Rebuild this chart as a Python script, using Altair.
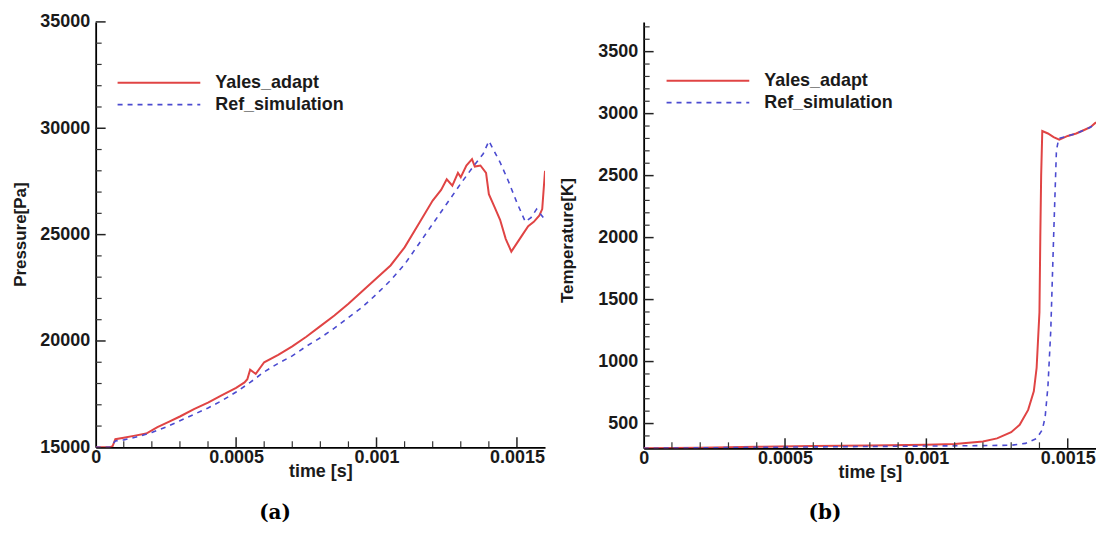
import altair as alt
import pandas as pd

series_names = ["Yales_adapt", "Ref_simulation"]
series_colors = ["#e04444", "#4b4bd0"]

t_p_yales = [0, 0.00005, 0.00006, 0.00007, 0.0001, 0.00014, 0.00018, 0.00022, 0.00026, 0.0003,
             0.00035, 0.0004, 0.00045, 0.0005, 0.00053, 0.00054, 0.00055, 0.00057, 0.0006, 0.00065,
             0.0007, 0.00075, 0.0008, 0.00085, 0.0009, 0.00095, 0.001, 0.00105, 0.0011, 0.00115,
             0.0012, 0.00123, 0.00125, 0.00127, 0.00129, 0.0013, 0.00132, 0.00134, 0.00135, 0.00137,
             0.00139, 0.0014, 0.00142, 0.00144, 0.00146, 0.00148, 0.0015, 0.00152, 0.00154, 0.00156,
             0.00158, 0.00159, 0.0016]
p_yales = [15000, 15000, 15050, 15380, 15450, 15550, 15650, 15950, 16200, 16450,
           16800, 17100, 17450, 17800, 18050, 18200, 18650, 18450, 19000, 19350,
           19750, 20200, 20700, 21200, 21750, 22350, 22950, 23550, 24400, 25500,
           26600, 27100, 27600, 27300, 27900, 27700, 28250, 28550, 28200, 28250,
           27900, 26900, 26300, 25700, 24800, 24200, 24600, 25000, 25400, 25600,
           25900, 26200, 28000]

t_p_ref = [0, 0.00005, 0.00007, 0.0001, 0.00015, 0.0002, 0.00025, 0.0003, 0.00035, 0.0004,
           0.00045, 0.0005, 0.00055, 0.0006, 0.00065, 0.0007, 0.00075, 0.0008, 0.00085, 0.0009,
           0.00095, 0.001, 0.00105, 0.0011, 0.00115, 0.0012, 0.00125, 0.0013, 0.00135, 0.00138,
           0.0014, 0.00142, 0.00144, 0.00147, 0.0015, 0.00153, 0.00155, 0.00157, 0.0016]
p_ref = [15000, 15000, 15300, 15350, 15500, 15700, 15950, 16250, 16550, 16850,
         17200, 17600, 18050, 18550, 18950, 19300, 19750, 20150, 20600, 21100,
         21600, 22200, 22850, 23600, 24550, 25500, 26450, 27400, 28300, 28800,
         29400, 28900, 28400, 27500, 26500, 25600, 25800, 26200, 25700]

t_T_yales = [0, 0.0002, 0.0004, 0.0006, 0.0008, 0.001, 0.0011, 0.0012, 0.00125, 0.0013,
             0.00133, 0.00136, 0.00138, 0.00139, 0.0014, 0.001403, 0.001406, 0.00141, 0.00143,
             0.00145, 0.00147, 0.0015, 0.00153, 0.00156, 0.00158, 0.0016]
T_yales = [300, 305, 312, 318, 322, 328, 335, 355, 380, 430,
           490, 610, 760, 950, 1400, 2000, 2500, 2860, 2840,
           2810, 2790, 2820, 2840, 2870, 2890, 2930]

t_T_ref = [0, 0.0004, 0.0008, 0.0012, 0.0013, 0.00135, 0.00139, 0.00141, 0.00142, 0.00143,
           0.00144, 0.00145, 0.00146, 0.001468, 0.0015, 0.00153, 0.00156, 0.00158, 0.0016]
T_ref = [300, 308, 315, 322, 325, 340, 380, 450, 550, 800,
         1250, 2000, 2700, 2800, 2820, 2840, 2870, 2890, 2920]

x_ticks_major = [0.0005, 0.001, 0.0015]
x_ticks_minor = [0.0001, 0.0002, 0.0003, 0.0004, 0.0006, 0.0007, 0.0008, 0.0009,
                 0.0011, 0.0012, 0.0013, 0.0014]
x_labels = [0, 0.0005, 0.001, 0.0015]
p_ticks_major = [20000, 25000, 30000, 35000]
p_ticks_minor = [16000, 17000, 18000, 19000, 21000, 22000, 23000, 24000,
                 26000, 27000, 28000, 29000, 31000, 32000, 33000, 34000]
p_labels = [15000, 20000, 25000, 30000, 35000]
T_ticks_major = [500, 1000, 1500, 2000, 2500, 3000, 3500]
T_ticks_minor = [v for v in range(400, 3800, 100) if v % 500 != 0]
T_labels = [500, 1000, 1500, 2000, 2500, 3000, 3500]

FONT = "Liberation Sans"
TXT = "#1a1a1a"


def panel(t1, v1, t2, v2, xdom, ydom, w, h, ytitle, ytx, yty, ylabels, ymaj, ymin,
          leg_x, leg_y, sub, sub_x, sub_y):
    xs = alt.Scale(domain=xdom, nice=False, zero=False)
    ys = alt.Scale(domain=ydom, nice=False, zero=False)
    xaxis = alt.Axis(title="time [s]", values=x_labels, format="~g", ticks=False, grid=False,
                     domainColor="black", domainWidth=1.8, labelPadding=1,
                     labelFont=FONT, labelFontSize=18, labelFontWeight="bold", labelColor=TXT,
                     titleFont=FONT, titleFontSize=18, titleFontWeight="bold", titleColor=TXT,
                     titleBaseline="middle", titleY=24, labelFlush=False)
    yaxis = alt.Axis(title=ytitle, values=ylabels, format="d", ticks=False, grid=False,
                     domainColor="black", domainWidth=1.8, labelPadding=6,
                     labelFont=FONT, labelFontSize=18, labelFontWeight="bold", labelColor=TXT,
                     titleFont=FONT, titleFontSize=17, titleFontWeight="bold", titleColor=TXT,
                     titleBaseline="middle", titleX=ytx, titleY=yty, labelFlush=False)
    X = alt.X("t:Q", scale=xs, axis=xaxis)
    Y = alt.Y("v:Q", scale=ys, axis=yaxis)

    d1 = pd.DataFrame({"t": t1, "v": v1})
    d2 = pd.DataFrame({"t": t2, "v": v2})

    red = alt.Chart(d1).mark_line(color=series_colors[0], strokeWidth=2, clip=True).encode(x=X, y=Y)
    blue = alt.Chart(d2).mark_line(color=series_colors[1], strokeWidth=1.6, strokeDash=[5, 5],
                                   clip=True).encode(x=X, y=Y)

    xmaj = alt.Chart(pd.DataFrame({"t": x_ticks_major})).mark_tick(
        color="#222", size=10, thickness=1.5, opacity=1).encode(x=X, y=alt.value(h - 5))
    xmin = alt.Chart(pd.DataFrame({"t": x_ticks_minor})).mark_tick(
        color="#333", size=6, thickness=1.2, opacity=1).encode(x=X, y=alt.value(h - 3))
    ymajl = alt.Chart(pd.DataFrame({"v": ymaj})).mark_tick(
        color="#222", size=10, thickness=1.5, opacity=1).encode(y=Y, x=alt.value(5))
    yminl = alt.Chart(pd.DataFrame({"v": ymin})).mark_tick(
        color="#333", size=6, thickness=1.2, opacity=1).encode(y=Y, x=alt.value(3))

    leg = []
    for i, (name, col) in enumerate(zip(series_names, series_colors)):
        dd = pd.DataFrame({"series": [name]})
        yy = leg_y + 22 * i
        if i == 0:
            r = alt.Chart(dd).mark_rule(color=col, strokeWidth=2)
        else:
            r = alt.Chart(dd).mark_rule(color=col, strokeWidth=1.6, strokeDash=[5, 5])
        leg.append(r.encode(x=alt.value(leg_x), x2=alt.value(leg_x + 83), y=alt.value(yy)))
        leg.append(alt.Chart(dd).mark_text(align="left", baseline="middle", font=FONT, fontSize=18,
                                           fontWeight="bold", color=TXT).encode(
            text="series:N", x=alt.value(leg_x + 98), y=alt.value(yy)))

    lab = alt.Chart(pd.DataFrame({"label": [sub]})).mark_text(
        font="DejaVu Serif", fontSize=20, fontWeight="bold", color="black",
        align="center", baseline="middle").encode(text="label:N", x=alt.value(sub_x), y=alt.value(sub_y))

    return alt.layer(red, blue, xmaj, xmin, ymajl, yminl, *leg, lab).properties(width=w, height=h)


left = panel(t_p_yales, p_yales, t_p_ref, p_ref, [0, 0.0016], [15000, 35000], 451, 427,
             "Pressure[Pa]", -75, 213, p_labels, p_ticks_major, p_ticks_minor,
             22, 61, "(a)", 180, 493)
right = panel(t_T_yales, T_yales, t_T_ref, T_ref, [0, 0.0016], [300, 3740], 454, 428,
              "Temperature[K]", -76, 219, T_labels, T_ticks_major, T_ticks_minor,
              23, 59, "(b)", 182, 493)

chart = alt.hconcat(left, right, spacing=14).properties(
    padding={"left": 4, "top": 4, "right": 0, "bottom": 2}
).configure(background="white").configure_view(stroke=None)

chart.save("out.html", embed_options={"renderer": "svg", "actions": False})
